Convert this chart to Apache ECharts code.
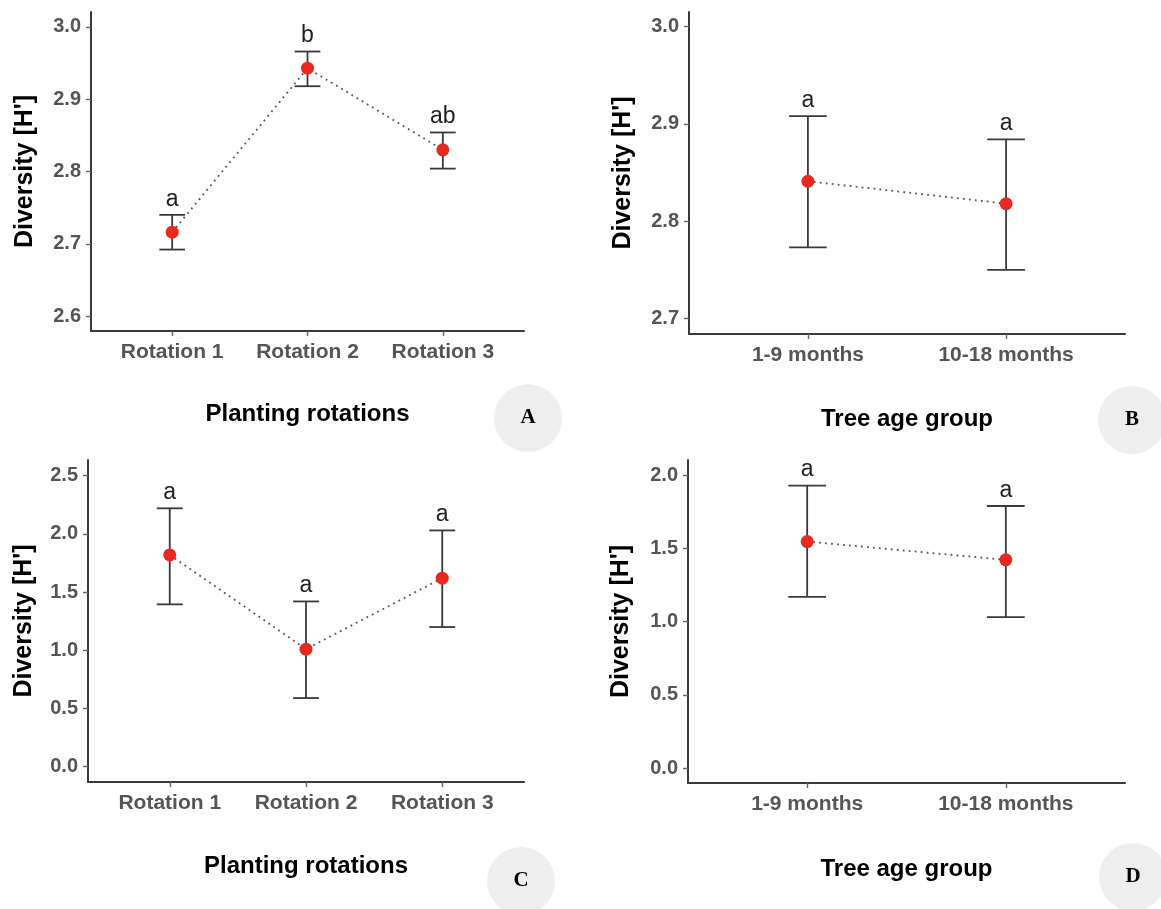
<!DOCTYPE html>
<html>
<head>
<meta charset="utf-8">
<script src="https://cdn.jsdelivr.net/npm/echarts@6/dist/echarts.min.js"></script>
<style>
html,body{margin:0;padding:0;background:#fff;}
#chart{width:1161px;height:909px;}
</style>
</head>
<body>
<div id="chart"></div>
<script>
// ---------- data ----------
const catsRotation = ['Rotation 1', 'Rotation 2', 'Rotation 3'];
const catsAge = ['1-9 months', '10-18 months'];

const meanA = [2.716, 2.943, 2.830];
const upperA = [2.740, 2.966, 2.854];
const lowerA = [2.692, 2.918, 2.804];
const lettersA = ['a', 'b', 'ab'];
const ticksA = [2.6, 2.7, 2.8, 2.9, 3.0];

const meanB = [2.841, 2.818];
const upperB = [2.908, 2.884];
const lowerB = [2.773, 2.750];
const lettersB = ['a', 'a'];
const ticksB = [2.7, 2.8, 2.9, 3.0];

const meanC = [1.82, 1.01, 1.62];
const upperC = [2.22, 1.42, 2.03];
const lowerC = [1.395, 0.59, 1.20];
const lettersC = ['a', 'a', 'a'];
const ticksC = [0.0, 0.5, 1.0, 1.5, 2.0, 2.5];

const meanD = [1.547, 1.422];
const upperD = [1.929, 1.790];
const lowerD = [1.169, 1.031];
const lettersD = ['a', 'a'];
const ticksD = [0.0, 0.5, 1.0, 1.5, 2.0];

const yTitle = "Diversity [H']";
const xTitleRotation = 'Planting rotations';
const xTitleAge = 'Tree age group';
const panelLetters = ['A', 'B', 'C', 'D'];

// ---------- layout ----------
const panels = [
  {cats: catsRotation, mean: meanA, upper: upperA, lower: lowerA, letters: lettersA, ticks: ticksA,
   yMin: 2.5793, yMax: 3.0207, xTitle: xTitleRotation,
   grid: {left: 91, top: 12, width: 433, height: 319}, xGap: 71, yGap: 53},
  {cats: catsAge, mean: meanB, upper: upperB, lower: lowerB, letters: lettersB, ticks: ticksB,
   yMin: 2.684, yMax: 3.015, xTitle: xTitleAge,
   grid: {left: 689, top: 12, width: 436, height: 322}, xGap: 73, yGap: 53},
  {cats: catsRotation, mean: meanC, upper: upperC, lower: lowerC, letters: lettersC, ticks: ticksC,
   yMin: -0.131, yMax: 2.635, xTitle: xTitleRotation,
   grid: {left: 88, top: 460, width: 436, height: 322}, xGap: 72, yGap: 51},
  {cats: catsAge, mean: meanD, upper: upperD, lower: lowerD, letters: lettersD, ticks: ticksD,
   yMin: -0.102, yMax: 2.104, xTitle: xTitleAge,
   grid: {left: 688, top: 460, width: 437, height: 323}, xGap: 74, yGap: 54}
];
const badges = [
  {cx: 528, cy: 418}, {cx: 1132, cy: 420}, {cx: 521, cy: 881}, {cx: 1133, cy: 877}
];

const AX = '#3a3a3a';
const LBL = '#555555';
const RED = '#e8291f';
const FONT = '"Liberation Sans", Arial, sans-serif';
const CAP = 0.095;

const grids = [], xAxes = [], yAxes = [], series = [];
panels.forEach((p, i) => {
  grids.push(Object.assign({containLabel: false}, p.grid));
  const idx = p.cats.map((c, k) => k + 1);
  xAxes.push({
    type: 'value', gridIndex: i, min: 0.4, max: p.cats.length + 0.6,
    splitLine: {show: false},
    axisLine: {show: true, onZero: false, lineStyle: {color: AX, width: 2}},
    axisTick: {show: true, length: 5, customValues: idx, lineStyle: {color: '#666', width: 1.4}},
    axisLabel: {show: true, customValues: idx, margin: 11, color: LBL, fontWeight: 'bold',
      fontSize: 21, fontFamily: FONT, formatter: v => p.cats[Math.round(v) - 1] || ''},
    name: p.xTitle, nameLocation: 'middle', nameGap: p.xGap,
    nameTextStyle: {color: '#000', fontWeight: 'bold', fontSize: 24, fontFamily: FONT}
  });
  yAxes.push({
    type: 'value', gridIndex: i, min: p.yMin, max: p.yMax,
    splitLine: {show: false},
    axisLine: {show: true, onZero: false, lineStyle: {color: AX, width: 2}},
    axisTick: {show: true, length: 5, customValues: p.ticks, lineStyle: {color: '#666', width: 1.4}},
    axisLabel: {show: true, customValues: p.ticks, margin: 10, color: LBL, fontWeight: 'bold',
      fontSize: 20, fontFamily: FONT, formatter: v => v.toFixed(1)},
    name: yTitle, nameLocation: 'middle', nameGap: p.yGap, nameRotate: 90,
    nameTextStyle: {color: '#000', fontWeight: 'bold', fontSize: 25, fontFamily: FONT}
  });
  const errData = p.cats.map((c, k) => [k + 1, p.lower[k], p.upper[k]]);
  series.push({
    type: 'custom', xAxisIndex: i, yAxisIndex: i, z: 2, silent: true,
    data: errData,
    renderItem: (params, api) => {
      const x = api.value(0), lo = api.value(1), hi = api.value(2);
      const pLo = api.coord([x, lo]), pHi = api.coord([x, hi]);
      const l = api.coord([x - CAP, hi])[0], r = api.coord([x + CAP, hi])[0];
      const st = {stroke: AX, lineWidth: 1.8};
      return {type: 'group', children: [
        {type: 'line', shape: {x1: pLo[0], y1: pLo[1], x2: pHi[0], y2: pHi[1]}, style: st},
        {type: 'line', shape: {x1: l, y1: pHi[1], x2: r, y2: pHi[1]}, style: st},
        {type: 'line', shape: {x1: l, y1: pLo[1], x2: r, y2: pLo[1]}, style: st},
        {type: 'text', x: pHi[0], y: pHi[1] - 4, style: {
          text: p.letters[params.dataIndex], textAlign: 'center', textVerticalAlign: 'bottom',
          font: '23px ' + FONT, fill: '#222'}}
      ]};
    }
  });
  series.push({
    type: 'line', xAxisIndex: i, yAxisIndex: i, z: 3, silent: true,
    data: p.cats.map((c, k) => [k + 1, p.mean[k]]),
    symbol: 'circle', symbolSize: 13,
    itemStyle: {color: RED, borderWidth: 0},
    lineStyle: {color: '#555', width: 1.8, type: [1.8, 4.2]},
    animation: false
  });
});

const graphics = [];
badges.forEach((b, i) => {
  graphics.push({type: 'circle', shape: {cx: b.cx, cy: b.cy, r: 34}, style: {fill: '#eeeeee'}, z: 0});
  graphics.push({type: 'text', x: b.cx, y: b.cy, style: {text: panelLetters[i], textAlign: 'center',
    textVerticalAlign: 'middle', font: 'bold 21px "Liberation Serif", "Times New Roman", serif', fill: '#000'}, z: 1});
});

const chart = echarts.init(document.getElementById('chart'), null, {renderer: 'canvas'});
chart.setOption({
  backgroundColor: '#ffffff',
  animation: false,
  grid: grids, xAxis: xAxes, yAxis: yAxes, series: series,
  graphic: graphics
});
</script>
</body>
</html>
